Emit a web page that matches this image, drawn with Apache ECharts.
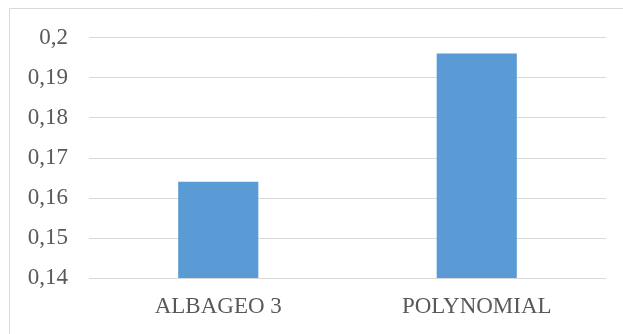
<!DOCTYPE html>
<html><head><meta charset="utf-8">
<script src="https://cdn.jsdelivr.net/npm/echarts@6/dist/echarts.min.js"></script>
<style>html,body{margin:0;padding:0;background:#fff}#c{width:623px;height:334px}</style>
</head><body><div id="c"></div>
<script>
var categories = ['ALBAGEO 3', 'POLYNOMIAL'];
var values = [0.164, 0.196];
var yMin = 0.14, yMax = 0.2, yStep = 0.01;

var chart = echarts.init(document.getElementById('c'), null, {renderer: 'canvas'});
chart.setOption({
  animation: false,
  backgroundColor: '#fff',
  graphic: [{
    type: 'rect', shape: {x: 9.5, y: 8.5, width: 700, height: 400},
    style: {fill: 'none', stroke: '#d9d9d9', lineWidth: 1}, silent: true
  }],
  grid: {left: 89, right: 17, top: 37.5, bottom: 56},
  xAxis: {
    type: 'category', data: categories,
    axisLine: {show: false}, axisTick: {show: false},
    axisLabel: {color: '#595959', fontFamily: 'Liberation Serif', fontSize: 23, margin: 17}
  },
  yAxis: {
    type: 'value', min: yMin, max: yMax, interval: yStep,
    axisLine: {show: false}, axisTick: {show: false},
    splitLine: {lineStyle: {color: '#d9d9d9', width: 1}},
    axisLabel: {
      color: '#595959', fontFamily: 'Liberation Serif', fontSize: 23, margin: 21,
      formatter: function (v) { return String(Math.round(v * 100) / 100).replace('.', ','); }
    }
  },
  series: [{
    type: 'bar', data: values, barWidth: '31%',
    itemStyle: {color: '#5b9bd5'}
  }]
});
</script></body></html>
